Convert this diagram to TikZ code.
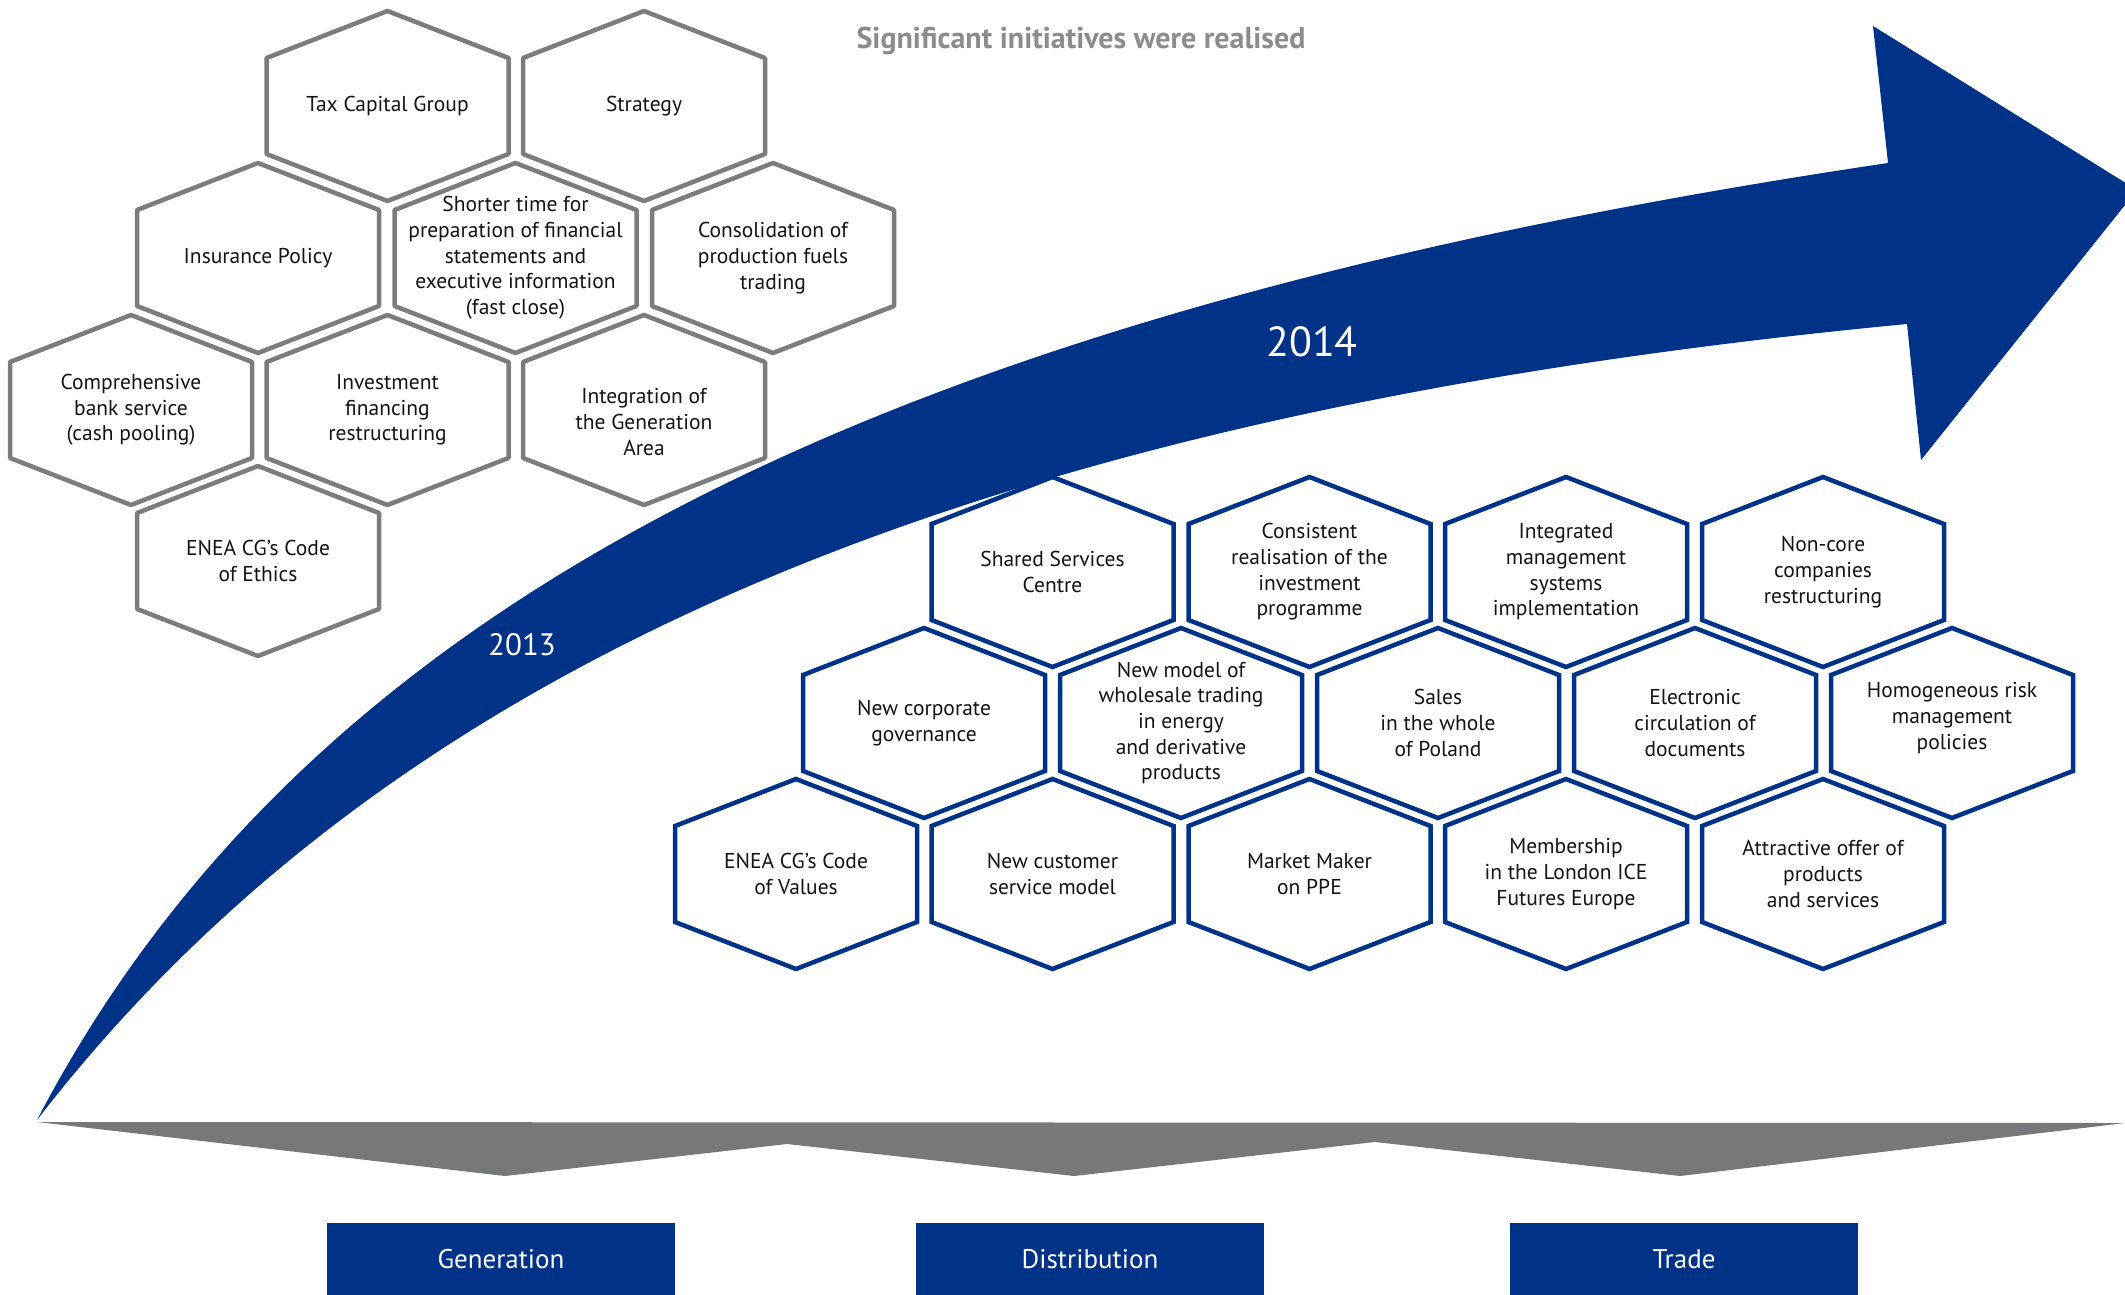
\documentclass[tikz,border=0pt]{standalone}
\usepackage{fontspec}
\setmainfont{PT Sans}
\definecolor{eneablue}{RGB}{0,50,136}
\definecolor{hexgray}{RGB}{122,124,126}
\definecolor{bargray}{RGB}{118,120,123}
\definecolor{titlegray}{RGB}{140,140,140}
\definecolor{txt}{RGB}{20,20,20}
\tikzset{
  hexg/.style={draw=hexgray, line width=4.5pt, line join=round, fill=white},
  hexb/.style={draw=eneablue, line width=4.5pt, line join=miter, fill=white},
  hextext/.style={align=center, inner sep=0pt, text=txt, font=\fontsize{21.5}{25.7}\selectfont},
  yearlbl/.style={text=white, inner sep=0pt},
  areabox/.style={fill=eneablue, text=white, minimum width=348pt, minimum height=72pt, inner sep=0pt, font=\fontsize{27}{30}\selectfont},
}
\newcommand\hexshape[3]{%
  \draw[#3, shift={(#1,#2)}] (0,-95) -- (121,-48) -- (121,48) -- (0,95) -- (-121,48) -- (-121,-48) -- cycle;}
\newcommand\hexcell[5]{%
  \hexshape{#2}{#3}{#4}
  \node[hextext] (#1) at (#2,#3) {#5};}
\begin{document}
\begin{tikzpicture}[x=1pt,y=-1pt]
\useasboundingbox (0,0) rectangle (2125,1295);
% title
\node[text=titlegray, font=\bfseries\fontsize{30}{34}\selectfont, inner sep=0pt] (title) at (1081,41) {Significant initiatives were realised};
% big arrow
\fill[eneablue] (37,1120) .. controls (313,592) and (900,310) .. (1888,163)
  -- (1873,26) -- (2137,190) -- (1921,460) -- (1907,324)
  .. controls (1007,410) and (403,646) .. (37,1120) -- cycle;
\node[yearlbl, font=\fontsize{31}{36}\selectfont] (y2013) at (522,645) {2013};
\node[yearlbl, font=\fontsize{42}{48}\selectfont] (y2014) at (1312,342) {2014};
% bottom grey band
\fill[bargray] (37,1122) -- (505,1176) -- (787,1144) -- (1074,1176) -- (1375,1142) -- (1680,1176) -- (2125,1123) -- cycle;
% area boxes
\node[areabox] (gen) at (501,1259) {Generation};
\node[areabox] (dist) at (1090,1259) {Distribution};
\node[areabox] (trade) at (1684,1259) {Trade};
% grey hexagons
\hexcell{tax}{387.5}{106}{hexg}{Tax Capital Group}
\hexcell{strat}{644}{106}{hexg}{Strategy}
\hexcell{ins}{258}{258}{hexg}{Insurance Policy}
\hexcell{fast}{515.5}{258}{hexg}{Shorter time for\\preparation of financial\\statements and\\executive information\\(fast close)}
\hexcell{fuel}{773}{258}{hexg}{Consolidation of\\production fuels\\trading}
\hexcell{bank}{131}{410}{hexg}{Comprehensive\\bank service\\(cash pooling)}
\hexcell{invfin}{387.5}{410}{hexg}{Investment\\financing\\restructuring}
\hexshape{644}{410}{hexg}
\node[hextext] (integ) at (644,422) {Integration of\\the Generation\\Area};
\hexcell{ethics}{258}{561}{hexg}{ENEA CG's Code\\of Ethics}
% blue hexagons
\hexcell{ssc}{1052.5}{572}{hexb}{Shared Services\\Centre}
\hexcell{invprog}{1309.5}{572}{hexb}{Consistent\\realisation of the\\investment\\programme}
\hexcell{ims}{1566}{572}{hexb}{Integrated\\management\\systems\\implementation}
\hexcell{noncore}{1823}{572}{hexb}{Non-core\\companies\\restructuring}
\hexcell{gov}{924}{723}{hexb}{New corporate\\governance}
\hexcell{wholesale}{1181}{723}{hexb}{New model of\\wholesale trading\\in energy\\and derivative\\products}
\hexcell{sales}{1438}{723}{hexb}{Sales\\in the whole\\of Poland}
\hexcell{docs}{1695}{723}{hexb}{Electronic\\circulation of\\documents}
\hexshape{1952}{723}{hexb}
\node[hextext] (risk) at (1952,718) {Homogeneous risk\\management\\policies};
\hexcell{values}{796}{874}{hexb}{ENEA CG's Code\\of Values}
\hexcell{cust}{1052.5}{874}{hexb}{New customer\\service model}
\hexcell{mm}{1309.5}{874}{hexb}{Market Maker\\on PPE}
\hexcell{ice}{1566}{874}{hexb}{Membership\\in the London ICE\\Futures Europe}
\hexcell{offer}{1823}{874}{hexb}{Attractive offer of\\products\\and services}
\end{tikzpicture}
\end{document}
